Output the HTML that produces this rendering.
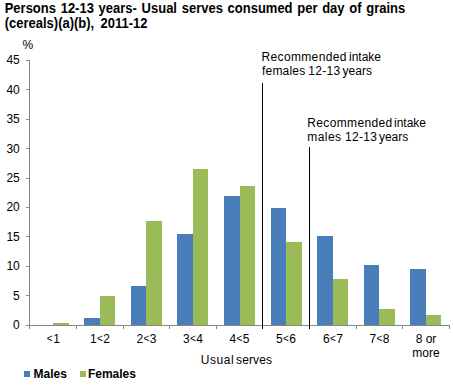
<!DOCTYPE html>
<html><head><meta charset="utf-8"><style>
html,body{margin:0;padding:0;background:#fff;width:453px;height:386px;overflow:hidden}
svg{display:block}
</style></head><body>
<svg width="453" height="386" viewBox="0 0 453 386">
<g font-family="Liberation Sans, sans-serif" font-weight="bold" font-size="13" fill="#000" word-spacing="1.1">
<text x="4.7" y="0" transform="translate(0,13) scale(1,1.1)">Persons 12-13 years- Usual serves consumed per day of grains</text>
<text x="4.7" y="0" transform="translate(0,27.8) scale(1,1.1)" word-spacing="2.7">(cereals)(a)(b), 2011-12</text>
</g>
<g font-family="Liberation Sans, sans-serif" font-size="12" fill="#000">
<text x="22.5" y="49">%</text>
<text x="19.8" y="64" text-anchor="end">45</text><text x="19.8" y="94" text-anchor="end">40</text><text x="19.8" y="123" text-anchor="end">35</text><text x="19.8" y="153" text-anchor="end">30</text><text x="19.8" y="182" text-anchor="end">25</text><text x="19.8" y="211" text-anchor="end">20</text><text x="19.8" y="241" text-anchor="end">15</text><text x="19.8" y="270" text-anchor="end">10</text><text x="19.8" y="300" text-anchor="end">5</text><text x="19.8" y="329" text-anchor="end">0</text>
<text x="53.00" y="343" text-anchor="middle"><tspan font-size="10" dx="0.3" dy="-1">&lt;</tspan><tspan dx="0.6" dy="1">1</tspan></text><text x="100.00" y="343" text-anchor="middle">1<tspan font-size="10" dx="0.3" dy="-1">&lt;</tspan><tspan dx="0.6" dy="1">2</tspan></text><text x="146.50" y="343" text-anchor="middle">2<tspan font-size="10" dx="0.3" dy="-1">&lt;</tspan><tspan dx="0.6" dy="1">3</tspan></text><text x="193.00" y="343" text-anchor="middle">3<tspan font-size="10" dx="0.3" dy="-1">&lt;</tspan><tspan dx="0.6" dy="1">4</tspan></text><text x="239.50" y="343" text-anchor="middle">4<tspan font-size="10" dx="0.3" dy="-1">&lt;</tspan><tspan dx="0.6" dy="1">5</tspan></text><text x="286.00" y="343" text-anchor="middle">5<tspan font-size="10" dx="0.3" dy="-1">&lt;</tspan><tspan dx="0.6" dy="1">6</tspan></text><text x="333.00" y="343" text-anchor="middle">6<tspan font-size="10" dx="0.3" dy="-1">&lt;</tspan><tspan dx="0.6" dy="1">7</tspan></text><text x="379.50" y="343" text-anchor="middle">7<tspan font-size="10" dx="0.3" dy="-1">&lt;</tspan><tspan dx="0.6" dy="1">8</tspan></text><text x="426.00" y="343" text-anchor="middle">8 or</text><text x="426.00" y="356.6" text-anchor="middle">more</text>
<text x="200.8" y="363.8" letter-spacing="0.55">Usual</text><text x="236" y="363.8" letter-spacing="0.15">serves</text>
<text x="261.5" y="60.9" letter-spacing="0.35">Recommended</text><text x="349" y="60.9">intake</text>
<text x="262" y="74.5" letter-spacing="0.2">females</text><text x="308.2" y="74.5" letter-spacing="0.3">12-13</text><text x="342.6" y="74.5">years</text>
<text x="307.3" y="126.8" letter-spacing="0.35">Recommended</text><text x="394" y="126.8">intake</text>
<text x="307.3" y="140.6" letter-spacing="0.45">males</text><text x="345.1" y="140.6" letter-spacing="0.3">12-13</text><text x="378.9" y="140.6">years</text>
</g>
<g shape-rendering="crispEdges">
<rect x="53" y="323" width="16" height="2" fill="#9bbb59"/><rect x="84" y="318" width="16" height="7" fill="#4a7ebb"/><rect x="100" y="296" width="15" height="29" fill="#9bbb59"/><rect x="131" y="286" width="15" height="39" fill="#4a7ebb"/><rect x="146" y="221" width="16" height="104" fill="#9bbb59"/><rect x="177" y="234" width="16" height="91" fill="#4a7ebb"/><rect x="193" y="169" width="15" height="156" fill="#9bbb59"/><rect x="224" y="196" width="16" height="129" fill="#4a7ebb"/><rect x="240" y="186" width="15" height="139" fill="#9bbb59"/><rect x="271" y="208" width="15" height="117" fill="#4a7ebb"/><rect x="286" y="242" width="16" height="83" fill="#9bbb59"/><rect x="317" y="236" width="16" height="89" fill="#4a7ebb"/><rect x="333" y="279" width="15" height="46" fill="#9bbb59"/><rect x="364" y="265" width="15" height="60" fill="#4a7ebb"/><rect x="379" y="309" width="16" height="16" fill="#9bbb59"/><rect x="410" y="269" width="16" height="56" fill="#4a7ebb"/><rect x="426" y="315" width="15" height="10" fill="#9bbb59"/>
<rect x="29" y="60" width="1" height="269" fill="#868686"/><rect x="26" y="325" width="424" height="1" fill="#868686"/><rect x="26" y="60" width="3" height="1" fill="#868686"/><rect x="26" y="89" width="3" height="1" fill="#868686"/><rect x="26" y="119" width="3" height="1" fill="#868686"/><rect x="26" y="148" width="3" height="1" fill="#868686"/><rect x="26" y="178" width="3" height="1" fill="#868686"/><rect x="26" y="207" width="3" height="1" fill="#868686"/><rect x="26" y="236" width="3" height="1" fill="#868686"/><rect x="26" y="266" width="3" height="1" fill="#868686"/><rect x="26" y="295" width="3" height="1" fill="#868686"/><rect x="26" y="325" width="3" height="1" fill="#868686"/><rect x="29" y="325" width="1" height="4" fill="#868686"/><rect x="76" y="325" width="1" height="4" fill="#868686"/><rect x="123" y="325" width="1" height="4" fill="#868686"/><rect x="169" y="325" width="1" height="4" fill="#868686"/><rect x="216" y="325" width="1" height="4" fill="#868686"/><rect x="262" y="325" width="1" height="4" fill="#868686"/><rect x="309" y="325" width="1" height="4" fill="#868686"/><rect x="356" y="325" width="1" height="4" fill="#868686"/><rect x="402" y="325" width="1" height="4" fill="#868686"/><rect x="449" y="325" width="1" height="4" fill="#868686"/>
<rect x="262" y="83" width="1" height="246" fill="#000"/>
<rect x="309" y="147" width="1" height="182" fill="#000"/>
<rect x="24" y="371" width="6" height="6" fill="#4a7ebb"/>
<rect x="80" y="371" width="6" height="6" fill="#9bbb59"/>
</g>
<g font-family="Liberation Sans, sans-serif" font-weight="bold" font-size="12" fill="#000">
<text x="33.5" y="377.5">Males</text>
<text x="87.9" y="377.5">Females</text>
</g>
</svg>
</body></html>
